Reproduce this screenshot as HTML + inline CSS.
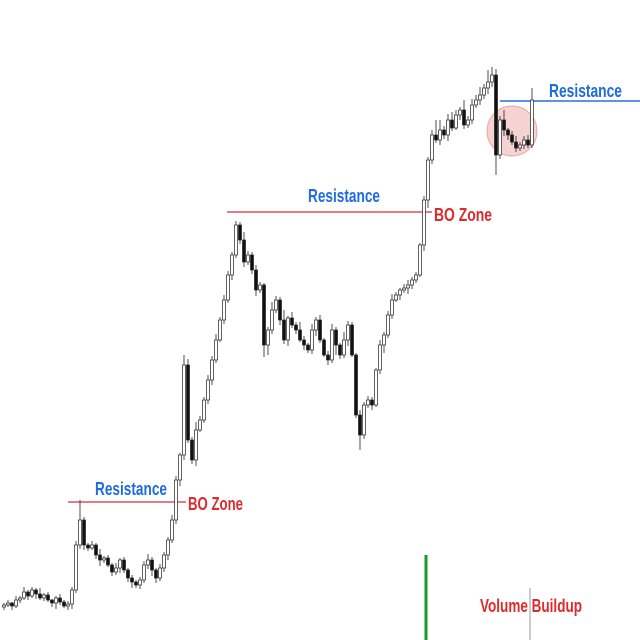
<!DOCTYPE html>
<html><head><meta charset="utf-8"><style>
html,body{margin:0;padding:0;background:#fff;}
svg{display:block;}
text{font-family:"Liberation Sans",sans-serif;font-weight:bold;}
</style></head>
<body>
<svg id="chart" width="640" height="640" viewBox="0 0 640 640" xmlns="http://www.w3.org/2000/svg">
  <g id="overlays">
    <circle cx="512" cy="131" r="25" fill="rgba(230,130,130,0.35)" stroke="rgba(220,120,120,0.6)" stroke-width="1"/>
    <line x1="68" y1="502" x2="186" y2="502" stroke="#d9545c" stroke-width="1.5"/>
    <line x1="227" y1="212" x2="432" y2="212" stroke="#d9545c" stroke-width="1.5"/>
    <line x1="500" y1="101" x2="640" y2="101" stroke="#2a6fd6" stroke-width="1.5"/>
    <line x1="426" y1="555" x2="426" y2="640" stroke="#1f9a2a" stroke-width="3"/>
    <line x1="530" y1="588" x2="530" y2="640" stroke="#999" stroke-width="1"/>
    <text x="95" y="495" font-size="18" fill="#1f6be0" textLength="72" lengthAdjust="spacingAndGlyphs">Resistance</text>
    <text x="188" y="510" font-size="18" fill="#de2a2a" textLength="55" lengthAdjust="spacingAndGlyphs">BO Zone</text>
    <text x="308" y="202" font-size="18" fill="#1f6be0" textLength="72" lengthAdjust="spacingAndGlyphs">Resistance</text>
    <text x="434" y="221" font-size="18" fill="#de2a2a" textLength="58" lengthAdjust="spacingAndGlyphs">BO Zone</text>
    <text x="549" y="97" font-size="18" fill="#1f6be0" textLength="73" lengthAdjust="spacingAndGlyphs">Resistance</text>
    <text x="480" y="612" font-size="18" fill="#de2a2a" textLength="102" lengthAdjust="spacingAndGlyphs">Volume Buildup</text>
  </g>
  <g id="candles"></g>
</svg>
<script>
// closing prices (price units; y = 640 - price)
const closes = [35,37,34,40,42,48,44,50,46,42,45,40,37,42,38,34,36,
50,95,120,95,92,95,85,80,82,75,68,72,80,70,62,58,55,60,
75,80,70,62,72,85,100,120,160,185,275,
200,180,210,220,240,260,280,300,320,340,365,385,415,400,378,385,370,350,355,
295,310,330,340,320,300,322,315,310,300,295,290,310,320,300,285,280,310,295,285,300,315,285,
225,205,235,240,235,270,295,305,325,340,345,350,352,355,360,365,395,440,480,505,
500,510,505,520,512,525,530,515,520,535,540,545,552,558,565,
485,520,510,505,498,492,495,500,495,540];
const firstOpen = 33;
const wickUp = [2,3,1,4,2,5,2,3,2,6, 2,3,1,2,4,2,3,3,4,20, 3,2,4,2,6,2,3,2,5,2, 3,2,3,2,3,4,6,3,2,4,
3,3,5,4,2,10,6,3,8,4, 3,5,4,6,3,5,4,3,4,3, 8,4,3,5,3,2,3,8,4,3, 10,2,6,3,8,4,2,6,3,5,
2,4,6,3,2,8,4,3,2,5, 3,4,3,2,5,3,4,6,3,2, 4,5,3,3,2,4,3,5,15,10, 4,6,8,5,3,10,4,6,5,8,
4,12,8,6,4,10,2,4,6,3, 4,5,12];
const wickDn = [3,2,4,2,3,2,4,2,5,2, 3,2,4,6,3,2,4,5,3,4, 5,3,2,4,6,3,2,4,3,5, 3,4,6,3,4,3,4,6,5,3,
4,5,3,4,6,5,3,4,6,2, 3,4,5,3,2,4,3,5,3,4, 5,3,4,6,3,12,10,4,3,5, 4,6,3,4,2,5,3,4,6,3,
2,5,3,10,4,3,6,2,3,15, 4,3,5,2,4,8,3,4,2,5, 3,6,4,3,2,6,8,4,3,5, 4,6,3,2,5,4,3,4,3,5,
4,6,5,20,4,6,5,3,4,3, 4,3,3];
const x0 = 4, step = 4, bodyW = 3;
function xScale(i){ return x0 + i*step; }
function yScale(p){ return 640 - p; }
const g = document.getElementById('candles');
const NS = 'http://www.w3.org/2000/svg';
for (let i = 0; i < closes.length; i++) {
  const o = i === 0 ? firstOpen : closes[i-1];
  const c = closes[i];
  const hi = Math.max(o, c) + (wickUp[i] || 0);
  const lo = Math.min(o, c) - (wickDn[i] || 0);
  const x = xScale(i);
  const up = c >= o;
  const grp = document.createElementNS(NS, 'g');
  
  
  const w = document.createElementNS(NS, 'line');
  
  
  w.setAttribute('x1', x); w.setAttribute('x2', x);
  w.setAttribute('y1', yScale(hi)); w.setAttribute('y2', yScale(lo));
  w.setAttribute('stroke', '#222'); w.setAttribute('stroke-width', '0.8');
  grp.appendChild(w);
  const b = document.createElementNS(NS, 'rect');
  
  
  const top = yScale(Math.max(o, c));
  const h = Math.max(1, Math.abs(c - o));
  b.setAttribute('x', x - bodyW/2); b.setAttribute('y', top);
  b.setAttribute('width', bodyW); b.setAttribute('height', h);
  b.setAttribute('fill', up ? '#fff' : '#111');
  b.setAttribute('stroke', '#222'); b.setAttribute('stroke-width', '0.7');
  grp.appendChild(b);
  g.appendChild(grp);
}
</script>
</body></html>
